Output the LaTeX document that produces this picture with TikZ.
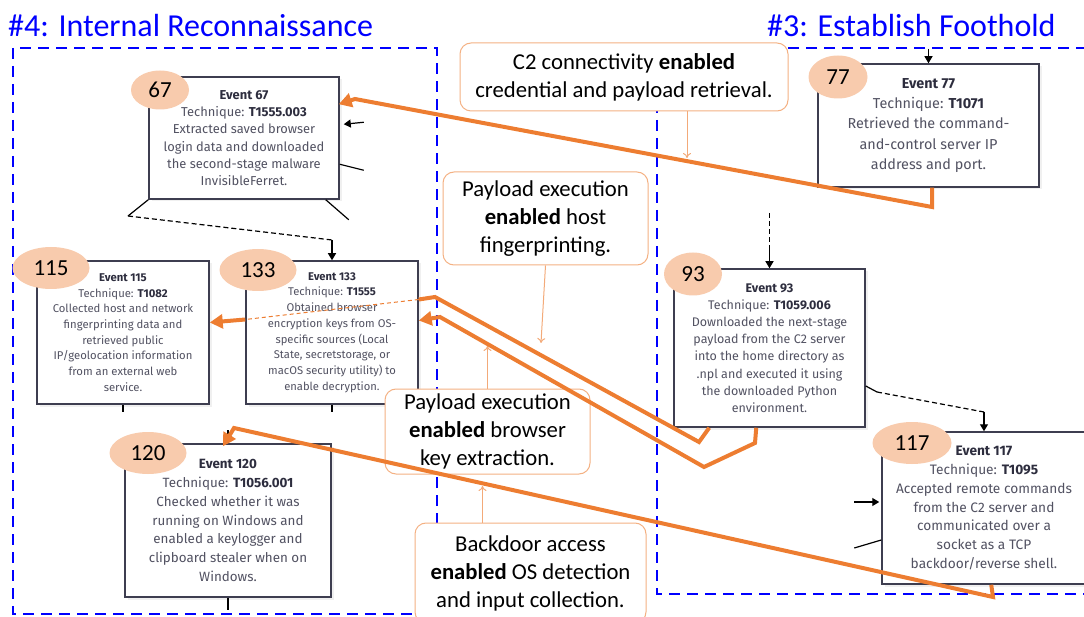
\documentclass[tikz,border=0pt]{standalone}
\usepackage{fontspec}
\setmainfont{Carlito}
\newfontfamily\eventfont{Fira Sans}
\usetikzlibrary{arrows.meta,calc,shadows,shapes.geometric}
\definecolor{PhaseBlue}{RGB}{0,0,255}
\definecolor{LinkOrange}{RGB}{237,125,49}
\definecolor{BadgePeach}{RGB}{248,203,173}
\definecolor{NoteRule}{RGB}{244,177,131}
\definecolor{EventInk}{RGB}{82,82,98}
\definecolor{EventDark}{RGB}{45,45,62}
\definecolor{EventRule}{RGB}{62,62,80}
\newcommand{\evsize}[2]{\eventfont\fontsize{#1}{#2}\selectfont}
\newcommand{\evhead}[2]{{\color{EventDark}\bfseries Event #1}\\Technique: {\color{EventDark}\bfseries #2}}

\begin{document}
\begin{tikzpicture}[x=1pt,y=-1pt,
    phase/.style={draw=PhaseBlue,line width=2pt,dash pattern=on 11pt off 7pt},
    title/.style={text=PhaseBlue,font=\fontsize{32}{38}\selectfont,anchor=base west,inner sep=0pt},
    event/.style={draw=EventRule,line width=1.5pt,fill=white,align=center,text=EventInk,inner sep=0pt,
      drop shadow={shadow xshift=2.5pt,shadow yshift=-2.5pt,opacity=0.12}},
    badge/.style={ellipse,fill=BadgePeach,inner sep=0pt,minimum height=42pt,font=\fontsize{23}{26}\selectfont},
    note/.style={draw=NoteRule,line width=1pt,rounded corners=11pt,fill=white,align=center,font=\fontsize{22.7}{28}\selectfont},
    cue/.style={draw=LinkOrange!65,line width=1pt,-{To[length=5pt,width=8pt]}},
    link/.style={draw=LinkOrange,line width=4pt},
    linkarr/.style={link,-{Triangle[length=13pt,width=14pt]}},
    stub/.style={draw=black,line width=1.2pt},
    stubarr/.style={stub,-{Triangle[length=7pt,width=8pt]}},
    loose/.style={stub,dash pattern=on 5pt off 3pt}
  ]
  \useasboundingbox (0,0) rectangle (1084,617);

  % phase frames
  \draw[phase] (13,48) rectangle (437,614);
  \draw[phase] (657,48) rectangle (1100,594);
  \node[title] (p4) at (8,37) {\#4: Internal Reconnaissance};
  \node[title] (p3) at (767,37) {\#3: Establish Foothold};

  % events
  \node[event,minimum width=190pt,minimum height=122pt,font={\evsize{12.9}{17.3}}] (e67) at (244,138)
    {\evhead{67}{T1555.003}\\Extracted saved browser\\login data and downloaded\\the second-stage malware\\InvisibleFerret.};
  \node[event,minimum width=221pt,minimum height=123pt,font={\evsize{14.4}{20.2}}] (e77) at (928.5,125.5)
    {\evhead{77}{T1071}\\Retrieved the command-\\and-control server IP\\address and port.};
  \node[event,minimum width=172pt,minimum height=143pt,font={\evsize{11.3}{15.7}}] (e115) at (123,332.5)
    {\evhead{115}{T1082}\\Collected host and network\\fingerprinting data and\\retrieved public\\IP/geolocation information\\from an external web\\service.};
  \node[event,minimum width=172pt,minimum height=143pt,font={\evsize{11.2}{15.7}}] (e133) at (332,332.5)
    {\evhead{133}{T1555}\\Obtained browser\\encryption keys from OS-\\specific sources (Local\\State, secretstorage, or\\macOS security utility) to\\enable decryption.};
  \node[event,minimum width=206pt,minimum height=153pt,font={\evsize{13.4}{18.7}}] (e120) at (228,520.5)
    {\evhead{120}{T1056.001}\\Checked whether it was\\running on Windows and\\enabled a keylogger and\\clipboard stealer when on\\Windows.};
  \node[event,minimum width=191pt,minimum height=158pt,font={\evsize{12.5}{17.2}}] (e93) at (769.5,348)
    {\evhead{93}{T1059.006}\\Downloaded the next-stage\\payload from the C2 server\\into the home directory as\\.npl and executed it using\\the downloaded Python\\environment.};
  \node[event,minimum width=204pt,minimum height=152pt,font={\evsize{13.7}{18.7}}] (e117) at (984,508)
    {\evhead{117}{T1095}\\Accepted remote commands\\from the C2 server and\\communicated over a\\socket as a TCP\\backdoor/reverse shell.};

  \node[badge,minimum width=58pt,minimum height=39pt] (n67) at (160,90) {67};
  \node[badge,minimum width=59pt,minimum height=43pt] (n77) at (838,77) {77};
  \node[badge,minimum width=77pt] (n115) at (51,268) {115};
  \node[badge,minimum width=77pt] (n133) at (258,270) {133};
  \node[badge,minimum width=77pt] (n120) at (148,453) {120};
  \node[badge,minimum width=58pt,minimum height=43pt] (n93) at (693,274) {93};
  \node[badge,minimum width=79pt] (n117) at (912,443) {117};

  % event-graph edges
  \coordinate (g1) at (128,216);
  \coordinate (g2) at (332,240);
  \draw[stub] (e67.south west) -- (g1);
  \draw[loose] (g1) -- (g2);
  \draw[stubarr] (g2) -- (e133.north);
  \draw[stubarr] ($(e67.north east)+(24,46)$) -- ($(e67.north east)+(4,48)$);
  \draw[stub] ($(e67.north east)+(0,88)$) -- ++(24,6);
  \draw[stub] ($(e67.south east)+(-14,0)$) -- ++(23,20);
  \draw[stub] (e115.south) -- ++(0,7);
  \draw[stub] (e133.south) -- ++(0,7);
  \draw[stub] (e120.south) -- ++(0,12);
  \coordinate (t120) at (228,430);
  \draw[stubarr] (t120) -- (e120.north);
  \coordinate (t77) at (928.5,49);
  \draw[stubarr] (t77) -- (e77.north);
  \coordinate (t93) at (769.5,213);
  \coordinate (t93b) at (769.5,250);
  \draw[loose] (t93) -- (t93b);
  \draw[stubarr] (t93b) -- (e93.north);
  \coordinate (d1) at (877,392);
  \coordinate (d2) at (984,412);
  \draw[stub] ($(e93.east)+(0,38)$) -- (d1);
  \draw[loose] (d1) -- (d2);
  \draw[stubarr] (d2) -- (e117.north);
  \draw[stubarr] ($(e117.west)+(-27,-6)$) -- ($(e117.west)+(-2,-6)$);
  \draw[stub] ($(e117.west)+(0,32)$) -- ++(-27,8);

  % callouts
  \node[note,minimum width=328pt,minimum height=68pt] (c2link) at (624,77)
    {C2 connectivity \textbf{enabled}\\credential and payload retrieval.};
  \node[note,minimum width=205pt,minimum height=93pt] (hostfp) at (545.5,218.5)
    {Payload execution\\\textbf{enabled} host\\fingerprinting.};
  \node[note,minimum width=205pt,minimum height=85pt] (keyext) at (487.5,431.5)
    {Payload execution\\\textbf{enabled} browser\\key extraction.};
  \node[note,minimum width=231pt,minimum height=100pt] (osdet) at (530.5,573)
    {Backdoor access\\\textbf{enabled} OS detection\\and input collection.};

  \coordinate (q1) at (687,158);
  \coordinate (q2) at (541,343);
  \coordinate (q3) at (487.5,346);
  \coordinate (q4) at (482.5,486);
  \draw[cue] ($(c2link.south)+(63,0)$) -- (q1);
  \draw[cue] (hostfp.south) -- (q2);
  \draw[cue] (keyext.north) -- (q3);
  \draw[cue] ($(osdet.north)+(-48,0)$) -- (q4);

  % orange cross-phase links
  \coordinate (k77) at (932,207);
  \coordinate (k67) at (355,99);
  \draw[linkarr] ($(e77.south)+(3.5,0)$) -- (k77) -- (k67) -- ($(e67.north east)+(-1,28)$);

  \coordinate (h1) at (699,442);
  \coordinate (h2) at (435,297);
  \draw[link] ($(e93.south west)+(36,0)$) -- (h1) -- (h2) -- ($(e133.east)+(0,-33)$);
  \draw[draw=LinkOrange,line width=1pt,dash pattern=on 4pt off 3pt] ($(e133.east)+(0,-33)$) -- ($(e133.west)+(0,-13)$);
  \draw[linkarr] ($(e133.west)+(0,-13)$) -- ($(e115.east)+(0,-10)$);

  \coordinate (b1) at (755,443);
  \coordinate (b2) at (704,467);
  \coordinate (b3) at (440,317);
  \draw[linkarr] ($(e93.south west)+(83,0)$) -- (b1) -- (b2) -- (b3) -- ($(e133.east)+(0,-12)$);

  \coordinate (o1) at (993,597);
  \coordinate (o2) at (234,428);
  \draw[linkarr] ($(e117.south west)+(110,0)$) -- (o1) -- (o2) -- ($(e120.north)+(-5,3)$);
\end{tikzpicture}
\end{document}
